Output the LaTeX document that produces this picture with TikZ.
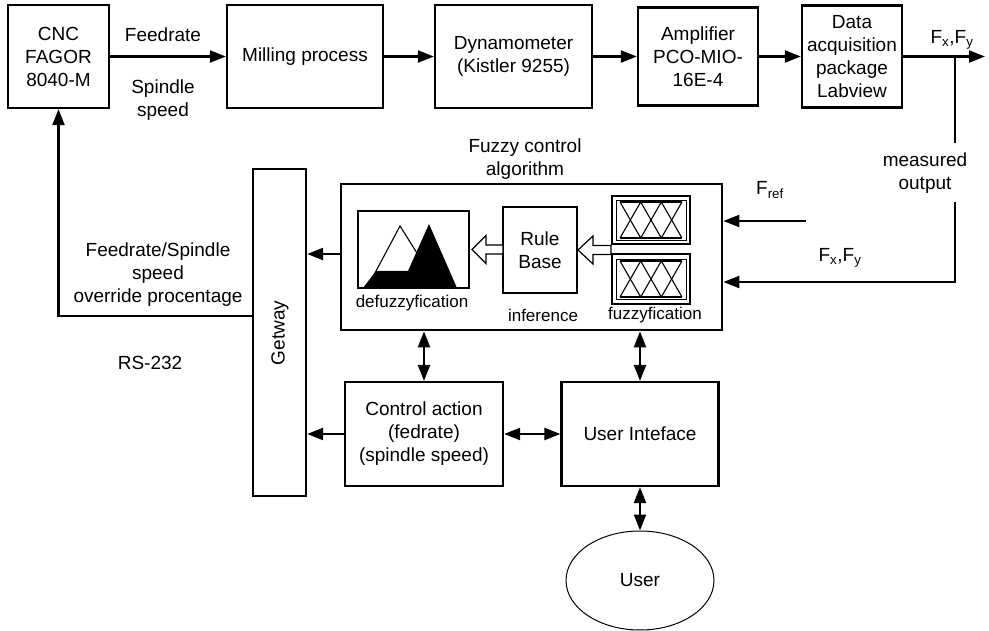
\documentclass[tikz,border=0pt]{standalone}
\usepackage{fontspec}
\setmainfont{Liberation Sans}
\usetikzlibrary{arrows.meta,shapes.geometric}
\begin{document}
\begin{tikzpicture}[x=1pt,y=-1pt,
  every node/.style={font=\fontsize{19}{23}\selectfont, align=center, inner sep=0pt},
  small/.style={font=\fontsize{17}{20}\selectfont},
  box/.style={draw, rectangle, line width=2.2pt},
  thin/.style={line width=1.1pt},
  tip/.style={},
  arr/.style={line width=2.2pt, -{Triangle[length=16pt,width=12pt]}},
  biarr/.style={line width=2.2pt, {Triangle[length=16pt,width=12pt]}-{Triangle[length=16pt,width=12pt]}},
  line/.style={line width=2.2pt},
  hollow/.style={draw, fill=white, line width=1.2pt}
]
\useasboundingbox (0,0) rectangle (989,631);

% forward path
\node[box, minimum width=101pt, minimum height=103pt] (cnc)  at (58.5,56.5) {CNC\\FAGOR\\8040-M};
\node[box, minimum width=156pt, minimum height=103pt] (mill) at (305,56.5)  {Milling process};
\node[box, minimum width=157pt, minimum height=103pt] (dyn)  at (513.5,56.5) {Dynamometer\\(Kistler 9255)};
\node[box, minimum width=120pt, minimum height=98pt]  (amp)  at (698,56.5)  {Amplifier\\PCO-MIO-\\16E-4};
\node[box, minimum width=100pt, minimum height=102pt] (daq)  at (852,56.5)  {Data\\acquisition\\package\\Labview};
\coordinate (out) at (985,56.5);

\draw[arr] (cnc) -- (mill);
\draw[arr] (mill) -- (dyn);
\draw[arr] (dyn) -- (amp);
\draw[arr] (amp) -- (daq);
\draw[arr] (daq) -- (out);

\node (lfeed) at (163,35) {Feedrate};
\node (lspin) at (163,100) {Spindle\\speed};
\node (lfxy)  at (952,40) {F\textsubscript{x},F\textsubscript{y}};

% fuzzy controller
\node[draw, rectangle, line width=2.7pt, minimum width=381pt, minimum height=146pt] (fuzzy) at (531.5,257) {};
\node (ltitle) at (525,159) {Fuzzy control\\algorithm};

\node[box, minimum width=111pt, minimum height=77pt] (defz) at (413.5,249.5) {};
\node[box, minimum width=74pt, minimum height=86pt] (rule) at (540,250) {Rule\\Base};
\node[box, minimum width=78pt, minimum height=48pt] (fz1) at (651,220) {};
\node[box, minimum width=78pt, minimum height=50pt] (fz2) at (651,279) {};

\node[small] (ldefz) at (412,303) {defuzzyfication};
\node[small] (linf)  at (543,315) {inference};
\node[small] (lfz)   at (655,315) {fuzzyfication};

% defuzzyfication sketch
\draw[thin] (367,288) -- (400,226) -- (439,288);
\fill (363,288) -- (376,271) -- (408,271) -- (429,224) -- (457,288) -- cycle;

% membership function sets
\foreach \f in {fz1,fz2}{
  \begin{scope}[shift={(\f.center)}]
    \draw[line width=0.8pt] (-35,-20) rectangle (35,20);
    \draw[thin] (-31,-18) -- (31,-18) (-31,18) -- (31,18);
    \draw[thin] (-31,-18) -- (-10.3,18) -- (10.3,-18) -- (31,18);
    \draw[thin] (-31,18) -- (-10.3,-18) -- (10.3,18) -- (31,-18);
  \end{scope}
}

% hollow flow arrows
\path[hollow] (472,249.5) -- (486,235.5) -- (486,245) -- (503,245) -- (503,254) -- (486,254) -- (486,263.5) -- cycle;
\path[hollow] (578,250) -- (593,236) -- (593,245.5) -- (611,245.5) -- (611,254.5) -- (593,254.5) -- (593,264) -- cycle;

% inputs to the controller
\coordinate (tap) at (955,56.5);
\coordinate (m1) at (955,143);
\coordinate (m2) at (955,202);
\coordinate (corner) at (955,282);
\coordinate (fref) at (806,221);
\draw[line] (tap) -- (m1);
\draw[arr] (m2) -- (corner) -- (corner -| fuzzy.east);
\draw[arr] (fref) -- (fref -| fuzzy.east);
\node (lmeas) at (925,173.5) {measured\\output};
\node (lfref) at (770,190) {F\textsubscript{ref}};
\node (lfxy2) at (840,258) {F\textsubscript{x},F\textsubscript{y}};

% gateway and lower blocks
\node[box, minimum width=53pt, minimum height=327pt] (gw) at (279.5,332.5) {};
\node[rotate=90] (lgw) at (280,333) {Getway};
\node[box, minimum width=158pt, minimum height=104pt] (ctrl) at (424,434) {Control action\\(fedrate)\\(spindle speed)};
\node[box, minimum width=157pt, minimum height=104pt] (ui) at (640,434) {User Inteface};
\node[draw, ellipse, line width=1pt, minimum width=148pt, minimum height=99pt] (user) at (640,580.5) {User};

\coordinate (fb) at (58.5,316);
\draw[arr] (fuzzy.west |- 0,254) -- (gw.east |- 0,254);
\draw[arr] (ctrl.west) -- (ctrl.west -| gw.east);
\draw[arr] (gw.west |- fb) -- (fb) -- (cnc.south);
\draw[biarr] (ctrl) -- (ui);
\draw[biarr] (ctrl.north) -- (ctrl.north |- fuzzy.south);
\draw[biarr] (ui.north) -- (ui.north |- fuzzy.south);
\draw[biarr] (ui.south) -- (user.north);

\node (lovr) at (158,275) {Feedrate/Spindle\\speed\\override procentage};
\node (lrs) at (150,363) {RS-232};
\end{tikzpicture}
\end{document}
